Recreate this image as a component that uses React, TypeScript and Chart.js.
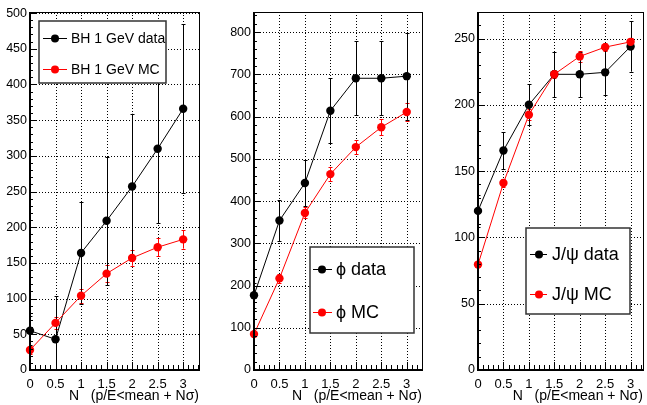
import React, { useEffect, useRef } from 'react';
import { Chart, registerables } from 'chart.js';

Chart.register(...registerables);

const FONT = '"Liberation Sans", Arial, Helvetica, sans-serif';

// ---- data ----
const xValues = [0, 0.5, 1, 1.5, 2, 2.5, 3];
const xTickValues = [0, 0.5, 1, 1.5, 2, 2.5, 3];
const xTickLabels = ['0', '0.5', '1', '1.5', '2', '2.5', '3'];
const xTitle = 'N   (p/E<mean + N\u03C3)';

const bhLabels = ['BH 1 GeV data', 'BH 1 GeV MC'];
const bhData = [55, 43, 164, 209, 257, 310, 366];
const bhDataErr = [20, 60, 71, 90, 102, 104, 118];
const bhMC = [28, 66, 104, 135, 157, 172, 183];
const bhMCErr = [5, 8, 10, 12, 11, 12.5, 13];
const bhYTicks = [0, 50, 100, 150, 200, 250, 300, 350, 400, 450, 500];

const phiLabels = ['\u03D5 data', '\u03D5 MC'];
const phiData = [177, 354, 443, 614, 691, 691, 696];
const phiDataErr = [30, 48, 55, 77, 88, 88, 103];
const phiMC = [85, 217, 372, 464, 528, 575, 611];
const phiMCErr = [5, 10, 13, 17, 16, 19, 21];
const phiYTicks = [0, 100, 200, 300, 400, 500, 600, 700, 800];

const jpsiLabels = ['J/\u03C8 data', 'J/\u03C8 MC'];
const jpsiData = [120, 165.5, 200, 223, 223, 224.5, 244];
const jpsiDataErr = [12, 14, 15.5, 17, 17, 17, 19];
const jpsiMC = [79.5, 141, 192.5, 223, 236.5, 243.5, 247.5];
const jpsiMCErr = [2, 3, 4, 3, 4, 3, 3];
const jpsiYTicks = [0, 50, 100, 150, 200, 250];

type PanelCfg = {
  left: number;
  width: number;
  yAxisWidth: number;
  padRight: number;
  xMax: number;
  yMax: number;
  yTicks: number[];
  yMinor: number;
  labels: string[];
  data: number[];
  dataErr: number[];
  mc: number[];
  mcErr: number[];
  legend: { box: [number, number, number, number]; rows: number[]; line: [number, number]; marker: number; textX: number; font: number };
};

const panels: PanelCfg[] = [
  {
    left: 0, width: 215, yAxisWidth: 30, padRight: 16, xMax: 3.31, yMax: 501.5,
    yTicks: bhYTicks, yMinor: 10, labels: bhLabels,
    data: bhData, dataErr: bhDataErr, mc: bhMC, mcErr: bhMCErr,
    legend: { box: [39, 21, 166, 83], rows: [38, 69], line: [43, 67], marker: 55, textX: 71, font: 14 },
  },
  {
    left: 215, width: 215, yAxisWidth: 39, padRight: 8, xMax: 3.3, yMax: 848,
    yTicks: phiYTicks, yMinor: 20, labels: phiLabels,
    data: phiData, dataErr: phiDataErr, mc: phiMC, mcErr: phiMCErr,
    legend: { box: [95, 247, 199, 333], rows: [269, 312], line: [98, 117], marker: 107, textX: 121, font: 18 },
  },
  {
    left: 430, width: 217, yAxisWidth: 48, padRight: 4, xMax: 3.24, yMax: 270,
    yTicks: jpsiYTicks, yMinor: 10, labels: jpsiLabels,
    data: jpsiData, dataErr: jpsiDataErr, mc: jpsiMC, mcErr: jpsiMCErr,
    legend: { box: [96, 228, 200, 314], rows: [254, 294], line: [100, 117], marker: 109, textX: 122, font: 18 },
  },
];

const rootPlugin = (cfg: PanelCfg) => ({
  id: 'rootStyle',
  beforeDatasetsDraw(chart: any) {
    const { ctx, chartArea: a, scales } = chart;
    const xs = scales.x;
    const ys = scales.y;
    ctx.save();
    // dotted grid
    ctx.strokeStyle = '#000';
    ctx.lineWidth = 1;
    ctx.setLineDash([1, 2]);
    xs.ticks.forEach((t: any) => {
      const px = Math.round(xs.getPixelForValue(t.value)) + 0.5;
      if (px <= a.left + 2) return;
      ctx.beginPath();
      ctx.moveTo(px, a.top);
      ctx.lineTo(px, a.bottom);
      ctx.stroke();
    });
    ys.ticks.forEach((t: any) => {
      const py = Math.round(ys.getPixelForValue(t.value)) + 0.5;
      if (py >= a.bottom - 2) return;
      ctx.beginPath();
      ctx.moveTo(a.left, py);
      ctx.lineTo(a.right, py);
      ctx.stroke();
    });
    ctx.setLineDash([]);
    // error bars
    ctx.beginPath();
    ctx.rect(a.left, a.top, a.right - a.left, a.bottom - a.top);
    ctx.clip();
    const dsOrder = [1, 0];
    dsOrder.forEach((di) => {
      const ds = chart.data.datasets[di];
      const meta = chart.getDatasetMeta(di);
      ctx.strokeStyle = ds.borderColor;
      ctx.lineWidth = 1;
      ds.data.forEach((p: any, i: number) => {
        const e = ds.errors[i];
        const px = Math.round(meta.data[i].x) + 0.5;
        const yt = ys.getPixelForValue(p.y + e);
        const yb = ys.getPixelForValue(p.y - e);
        ctx.beginPath();
        ctx.moveTo(px, yt);
        ctx.lineTo(px, yb);
        ctx.moveTo(px - 2, Math.round(yt) + 0.5);
        ctx.lineTo(px + 2, Math.round(yt) + 0.5);
        ctx.moveTo(px - 2, Math.round(yb) + 0.5);
        ctx.lineTo(px + 2, Math.round(yb) + 0.5);
        ctx.stroke();
      });
    });
    ctx.restore();
  },
  afterDraw(chart: any) {
    const { ctx, chartArea: a, scales } = chart;
    const xs = scales.x;
    const ys = scales.y;
    ctx.save();
    ctx.strokeStyle = '#000';
    // minor / major ticks on x axis (inside)
    ctx.lineWidth = 1;
    ctx.beginPath();
    for (let k = 0; k * 0.1 <= cfg.xMax + 1e-9; k++) {
      const v = k * 0.1;
      const major = k % 5 === 0;
      const px = Math.round(xs.getPixelForValue(v)) + 0.5;
      ctx.moveTo(px, a.bottom);
      ctx.lineTo(px, a.bottom - (major ? 8 : 5));
    }
    // y axis ticks
    for (let k = 0; k * cfg.yMinor <= cfg.yMax + 1e-9; k++) {
      const v = k * cfg.yMinor;
      const major = cfg.yTicks.includes(v);
      const py = Math.round(ys.getPixelForValue(v)) + 0.5;
      ctx.moveTo(a.left, py);
      ctx.lineTo(a.left + (major ? 6 : 3), py);
    }
    ctx.stroke();
    // frame
    ctx.lineWidth = 1;
    ctx.strokeRect(Math.round(a.left) + 0.5, Math.round(a.top) + 0.5, Math.round(a.right - a.left), Math.round(a.bottom - a.top));
    ctx.lineWidth = 2;
    ctx.beginPath();
    ctx.moveTo(Math.round(a.left), Math.round(a.top));
    ctx.lineTo(Math.round(a.left), Math.round(a.bottom));
    ctx.lineTo(Math.round(a.right) + 1, Math.round(a.bottom));
    ctx.stroke();
    // axis title
    ctx.fillStyle = '#000';
    ctx.font = `14px ${FONT}`;
    ctx.textAlign = 'right';
    ctx.textBaseline = 'middle';
    ctx.fillText(xTitle, a.right, 396);
    // legend
    const L = cfg.legend;
    const [bx1, by1, bx2, by2] = L.box;
    ctx.fillStyle = '#fff';
    ctx.fillRect(bx1, by1, bx2 - bx1, by2 - by1);
    ctx.strokeStyle = '#333';
    ctx.lineWidth = 1.5;
    ctx.strokeRect(bx1, by1, bx2 - bx1, by2 - by1);
    [0, 1].forEach((di) => {
      const ds = chart.data.datasets[di];
      const ry = L.rows[di];
      ctx.strokeStyle = ds.borderColor;
      ctx.lineWidth = 1;
      ctx.beginPath();
      ctx.moveTo(L.line[0], ry + 0.5);
      ctx.lineTo(L.line[1], ry + 0.5);
      ctx.stroke();
      ctx.fillStyle = ds.backgroundColor;
      ctx.beginPath();
      ctx.arc(L.marker, ry + 0.5, 4, 0, Math.PI * 2);
      ctx.fill();
      ctx.fillStyle = '#000';
      ctx.font = `${L.font}px ${FONT}`;
      ctx.textAlign = 'left';
      ctx.textBaseline = 'middle';
      ctx.fillText(ds.label, L.textX, ry + 1);
    });
    ctx.restore();
  },
});

function Panel({ cfg }: { cfg: PanelCfg }) {
  const ref = useRef<HTMLCanvasElement | null>(null);
  useEffect(() => {
    if (!ref.current) return;
    const mk = (vals: number[]) => xValues.map((x, i) => ({ x, y: vals[i] }));
    const chart = new Chart(ref.current, {
      type: 'line',
      data: {
        datasets: [
          {
            label: cfg.labels[0], data: mk(cfg.data), errors: cfg.dataErr,
            borderColor: '#000', backgroundColor: '#000', borderWidth: 1,
            pointRadius: 4.2, pointBorderWidth: 0, pointBackgroundColor: '#000',
            order: 1, clip: false, tension: 0,
          } as any,
          {
            label: cfg.labels[1], data: mk(cfg.mc), errors: cfg.mcErr,
            borderColor: '#ff0000', backgroundColor: '#ff0000', borderWidth: 1,
            pointRadius: 4.2, pointBorderWidth: 0, pointBackgroundColor: '#ff0000',
            order: 0, clip: false, tension: 0,
          } as any,
        ],
      },
      options: {
        animation: false,
        responsive: false,
        devicePixelRatio: 1,
        layout: { padding: { left: 0, right: cfg.padRight, top: 12, bottom: 0 } },
        plugins: { legend: { display: false }, tooltip: { enabled: false } },
        scales: {
          x: {
            type: 'linear', min: 0, max: cfg.xMax,
            afterBuildTicks: (s: any) => { s.ticks = xTickValues.map((v) => ({ value: v })); },
            afterFit: (s: any) => { s.height = 35; },
            grid: { display: false, drawTicks: false },
            border: { display: false },
            ticks: {
              autoSkip: false, maxRotation: 0, padding: 7, color: '#000',
              font: { family: FONT, size: 13 },
              callback: (_v: any, i: number) => xTickLabels[i],
            },
          },
          y: {
            type: 'linear', min: 0, max: cfg.yMax,
            afterBuildTicks: (s: any) => { s.ticks = cfg.yTicks.map((v) => ({ value: v })); },
            afterFit: (s: any) => { s.width = cfg.yAxisWidth; },
            grid: { display: false, drawTicks: false },
            border: { display: false },
            ticks: {
              autoSkip: false, padding: 3, color: '#000',
              font: { family: FONT, size: 12.5 },
              callback: (v: any) => String(v),
            },
          },
        },
      } as any,
      plugins: [rootPlugin(cfg)],
    });
    return () => chart.destroy();
  }, [cfg]);
  return (
    <canvas
      ref={ref}
      width={cfg.width}
      height={405}
      style={{ position: 'absolute', left: cfg.left, top: 0, width: cfg.width, height: 405 }}
    />
  );
}

export default function App() {
  return (
    <div style={{ position: 'fixed', left: 0, top: 0, width: 647, height: 405, background: '#fff' }}>
      {panels.map((p, i) => (
        <Panel key={i} cfg={p} />
      ))}
    </div>
  );
}
